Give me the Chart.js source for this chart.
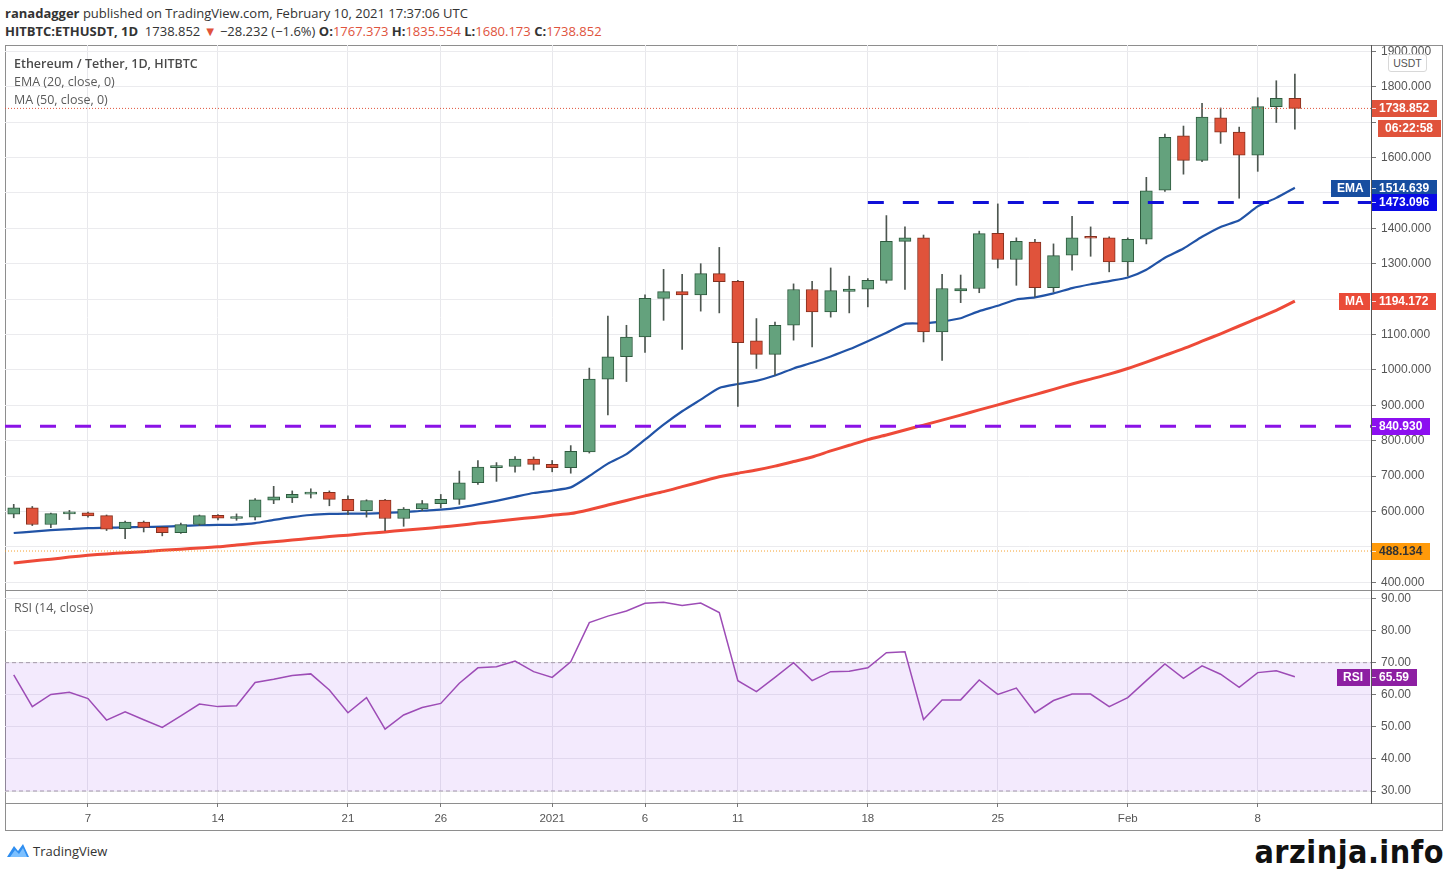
<!DOCTYPE html>
<html>
<head>
<meta charset="utf-8">
<title>ETHUSDT 1D</title>
<script src="https://cdn.jsdelivr.net/npm/chart.js@4.4.1/dist/chart.umd.min.js"></script>
<style>
  body { margin: 0; background: #fff; font-family: "Open Sans", "Noto Sans", sans-serif; color: #333; }
  .page { position: relative; width: 1447px; height: 869px; overflow: hidden; }
  .abs { position: absolute; white-space: nowrap; }
  .hdr { left: 5px; font-size: 13px; line-height: 18px; color: #333; }
  .red { color: #e0533c; }
  .frame { left: 5px; top: 45px; width: 1438px; height: 786px; border: 1px solid #8e8e8e; box-sizing: border-box; }
  .sep { left: 5px; width: 1438px; height: 1px; background: #8e8e8e; }
  .leg { left: 14px; font-size: 12.5px; line-height: 16px; color: #5a5a5a; z-index: 2; }
  .usdt { left: 1388px; top: 54px; width: 37px; height: 16px; border: 1px solid #d8d8d8; border-radius: 3px;
          font: 10.5px "Liberation Sans", sans-serif; color: #555; text-align: center; line-height: 16px; z-index: 2; background: #fff; }
  canvas { position: absolute; left: 0; }
  .tv { left: 33px; top: 842px; font-size: 13px; color: #333; }
  .brand { right: 3px; top: 833px; font: bold 32px "Liberation Sans Narrow", "DejaVu Sans Condensed", sans-serif; color: #111; letter-spacing: 0.5px; }
</style>
</head>
<body>
<div class="page">
  <div class="abs hdr" style="top:4px"><b>ranadagger</b> published on TradingView.com, February 10, 2021 17:37:06 UTC</div>
  <div class="abs hdr" style="top:22px"><b>HITBTC:ETHUSDT, 1D</b>&nbsp; 1738.852 <span class="red">&#9660;</span> &minus;28.232 (&minus;1.6%) <b>O:</b><span class="red">1767.373</span> <b>H:</b><span class="red">1835.554</span> <b>L:</b><span class="red">1680.173</span> <b>C:</b><span class="red">1738.852</span></div>

  <div class="abs frame"></div>
  <div class="abs sep" style="top:590px"></div>
  <div class="abs sep" style="top:803px"></div>

  <canvas id="priceChart" style="top:45px"></canvas>
  <canvas id="rsiChart" style="top:590px"></canvas>

  <div class="abs leg" style="top:56px; font-weight:600; color:#4a4a4a">Ethereum / Tether, 1D, HITBTC</div>
  <div class="abs leg" style="top:74px">EMA (20, close, 0)</div>
  <div class="abs leg" style="top:92px">MA (50, close, 0)</div>
  <div class="abs leg" style="top:600px">RSI (14, close)</div>
  <div class="abs usdt">USDT</div>

  <svg class="abs" style="left:6px; top:842px" width="24" height="16" viewBox="0 0 24 16">
    <path d="M1 15 L8 4 L12 9 L17 2 L23 15 Z" fill="#2f8ef0"/>
    <path d="M4 15 L9 8 L13 12 L17 6 L21 15 Z" fill="#7cc0ff"/>
  </svg>
  <div class="abs tv">TradingView</div>
  <div class="abs brand">arzinja.info</div>
</div>

<script>
// x ticks (day index from Dec 3, 2020) and their labels
const tickDays   = [4, 11, 18, 23, 29, 34, 39, 46, 53, 60, 67];
const tickLabels = ['7', '14', '21', '26', '2021', '6', '11', '18', '25', 'Feb', '8'];
const priceTicks = [400, 500, 600, 700, 800, 900, 1000, 1100, 1200, 1300, 1400, 1500, 1600, 1700, 1800, 1900];
const rsiTicks   = [30, 40, 50, 60, 70, 80, 90];

// daily candles Dec 3 2020 .. Feb 10 2021
const opens  = [592, 610, 563, 593, 596, 588, 551, 570, 555, 540,
                563, 589, 580, 584, 632, 638, 649, 654, 634, 602,
                632, 580, 607, 622, 634, 681, 724, 727, 748, 733,
                724, 768, 974, 1037, 1093, 1202, 1221, 1212, 1272, 1250,
                1082, 1044, 1126, 1227, 1164, 1222, 1228, 1253, 1363, 1373,
                1107, 1223, 1230, 1386, 1312, 1361, 1232, 1324, 1377, 1373,
                1305, 1369, 1508, 1661, 1592, 1712, 1672, 1607, 1744, 1767.373];
const highs  = [620, 614, 595, 603, 598, 590, 573, 573, 557, 567,
                590, 591, 593, 636, 671, 658, 664, 658, 644, 633,
                634, 611, 631, 648, 714, 744, 738, 755, 754, 744,
                786, 1005, 1152, 1126, 1212, 1284, 1270, 1300, 1346, 1253,
                1145, 1135, 1243, 1250, 1288, 1265, 1258, 1436, 1404, 1381,
                1270, 1268, 1392, 1469, 1373, 1369, 1356, 1434, 1404, 1376,
                1373, 1544, 1666, 1689, 1753, 1740, 1686, 1769, 1817, 1835.554];
const lows   = [582, 560, 554, 577, 584, 546, 523, 542, 531, 538,
                560, 576, 575, 576, 622, 625, 638, 616, 591, 584,
                546, 558, 602, 610, 620, 676, 685, 711, 717, 712,
                708, 765, 873, 967, 1049, 1140, 1058, 1166, 1161, 897,
                1004, 985, 1084, 1065, 1149, 1161, 1178, 1245, 1227, 1079,
                1027, 1190, 1218, 1288, 1239, 1206, 1220, 1282, 1321, 1277,
                1265, 1356, 1504, 1553, 1588, 1640, 1485, 1561, 1699, 1680.173];
const closes = [610, 563, 594, 596, 587, 550, 570, 555, 540, 563,
                588, 581, 584, 633, 641, 648, 654, 634, 602, 631,
                580, 607, 622, 634, 681, 725, 728, 748, 733, 724,
                770, 974, 1037, 1093, 1202, 1221, 1212, 1272, 1249, 1077,
                1044, 1126, 1227, 1164, 1224, 1228, 1253, 1363, 1373, 1107,
                1230, 1230, 1385, 1312, 1363, 1232, 1323, 1373, 1372, 1305,
                1369, 1506, 1657, 1592, 1714, 1672, 1607, 1744, 1767, 1738.852];

// indicator values
const ema20 = [539, 543, 547, 550, 553, 554, 555, 556, 557, 559,
               561, 562, 563, 567, 576, 584, 590, 593, 594, 594,
               596, 598, 602, 605, 611, 620, 630, 641, 652, 659,
               668, 700, 735, 762, 803, 845, 883, 916, 949, 960,
               969, 984, 1004, 1020, 1038, 1058, 1081, 1105, 1130, 1131,
               1137, 1146, 1166, 1181, 1199, 1205, 1216, 1231, 1242, 1251,
               1261, 1283, 1317, 1343, 1376, 1404, 1423, 1462, 1486, 1514.639];
const ma50  = [454, 460, 465, 471, 476, 480, 483, 486, 490, 493,
               497, 500, 505, 510, 514, 519, 524, 529, 533, 538,
               542, 547, 551, 556, 561, 567, 572, 578, 583, 589,
               594, 605, 618, 631, 644, 656, 670, 684, 698, 708,
               717, 728, 741, 754, 771, 787, 803, 816, 830, 844,
               858, 872, 887, 901, 916, 930, 945, 960, 974, 988,
               1004, 1022, 1041, 1060, 1081, 1102, 1124, 1146, 1168, 1194.172];
const rsi14 = [66.2, 56.3, 60.1, 60.8, 58.8, 52.1, 54.7, 52.2, 49.8, 53.4,
               57.1, 56.3, 56.6, 63.8, 64.8, 66.0, 66.5, 61.5, 54.4, 59.1,
               49.3, 53.7, 56.0, 57.3, 63.6, 68.4, 68.7, 70.5, 67.2, 65.4,
               70.3, 82.5, 84.5, 86.1, 88.5, 88.8, 87.8, 88.6, 85.6, 64.4,
               61.0, 65.4, 70.0, 64.4, 67.2, 67.3, 68.4, 73.1, 73.4, 52.3,
               58.4, 58.4, 64.6, 60.1, 62.1, 54.4, 58.2, 60.2, 60.2, 56.3,
               59.1, 64.4, 69.6, 65.1, 69.0, 66.4, 62.3, 66.9, 67.5, 65.59];

// drawn levels
const resistanceLevel = 1473.096, resistanceFrom = 46;
const supportLevel = 840.930;
const lowMark = 488.134;
const rsiBands = [70, 30];

const X_MIN = -0.47, X_MAX = 73.1;
const PRICE_MIN = 378, PRICE_MAX = 1918, PRICE_HEIGHT = 545;
const GREEN = '#64a27d', GREEN_EDGE = '#2e5a3e';
const RED = '#e0533b', RED_EDGE = '#84301f';
const WICK = '#4d5650';
const AXIS_FONT = {family: '"Liberation Sans", Arial, sans-serif', size: 12};

const pts = arr => arr.map((v, i) => ({x: i, y: v}));
const span = (y, from, to) => [{x: from, y: y}, {x: to, y: y}];
const isUp = i => closes[i] >= opens[i];

// price / indicator tags on the right axis (kept outside chart options so they are not proxied)
function tagPlugin(items) {
    return {
        id: 'tags',
        afterDraw(chart) {
            const {ctx, chartArea, scales} = chart;
            ctx.save();
            ctx.font = 'bold 12px "Liberation Sans", Arial, sans-serif';
            ctx.textBaseline = 'middle';
            ctx.textAlign = 'left';
            items.forEach(t => {
                const y = Math.round(scales.y.getPixelForValue(t.value)) + (t.offsetY || 0);
                const x = chartArea.right + 1 + (t.dx || 0);
                const w = Math.ceil(ctx.measureText(t.text).width) + 14;
                ctx.fillStyle = t.bg;
                ctx.fillRect(x, y - 8, w, 17);
                ctx.fillStyle = t.fg || '#fff';
                ctx.fillText(t.text, x + 7, y + 1);
                if (!t.dx) {
                    ctx.fillStyle = 'rgba(255,255,255,0.8)';
                    ctx.fillRect(x, y, 4, 1);
                }
                if (t.prefix) {
                    const pw = Math.ceil(ctx.measureText(t.prefix).width) + 12;
                    ctx.fillStyle = t.bg;
                    ctx.fillRect(chartArea.right - pw - 1, y - 8, pw, 17);
                    ctx.fillStyle = '#fff';
                    ctx.fillText(t.prefix, chartArea.right - pw + 5, y + 1);
                }
            });
            ctx.restore();
        }
    };
}

class EthChart {

    constructor() {
        Chart.defaults.font.family = '"Liberation Sans", Arial, sans-serif';
        Chart.defaults.animation = false;
        this.priceCanvas = document.getElementById('priceChart');
        this.rsiCanvas = document.getElementById('rsiChart');
        this.drawPrice();
        this.drawRsi();
    }

    xAxis(showLabels) {
        return {
            type: 'linear', min: X_MIN, max: X_MAX, offset: false,
            afterBuildTicks: s => { s.ticks = tickDays.map(v => ({value: v})); },
            afterFit: s => {
                s.height = showLabels ? 27 : 0;
                s.paddingLeft = 0;
                s.paddingRight = 0;
            },
            grid: {color: '#e8e8ec', offset: false, drawTicks: showLabels, tickLength: 4, tickColor: '#777'},
            border: {display: false},
            ticks: {
                display: showLabels, autoSkip: false, maxRotation: 0, padding: 5,
                color: '#555', font: {family: AXIS_FONT.family, size: 11.5},
                callback: v => tickLabels[tickDays.indexOf(v)]
            }
        };
    }

    yAxis(min, max, ticks, digits, hidden) {
        return {
            type: 'linear', position: 'right', min: min, max: max,
            afterBuildTicks: s => { s.ticks = ticks.map(v => ({value: v})); },
            afterFit: s => {
                s.width = 76;
                s.paddingTop = 0;
                s.paddingBottom = 0;
            },
            grid: {color: '#ebebee', tickLength: 5, tickColor: '#777'},
            border: {display: true, color: '#555'},
            ticks: {
                autoSkip: false, padding: 5, color: '#555', font: AXIS_FONT,
                callback: v => hidden.includes(v) ? '' : v.toFixed(digits)
            }
        };
    }

    // tick labels that sit under a tag are not shown, like on the original
    coveredTicks(ticks, tags, unitsPerPx) {
        return ticks.filter(v => tags.some(t => Math.abs(v - (t.value - (t.offsetY || 0) * unitsPerPx)) < 14 * unitsPerPx));
    }

    drawPrice() {
        const last = closes.length - 1;
        const tags = [
            {value: closes[last], text: closes[last].toFixed(3), bg: '#e0533b'},
            {value: closes[last], text: '06:22:58', bg: '#e0533b', offsetY: 20, dx: 6},
            {value: ema20[last], text: ema20[last].toFixed(3), bg: '#174ea0', prefix: 'EMA'},
            {value: resistanceLevel, text: resistanceLevel.toFixed(3), bg: '#0a0ae6'},
            {value: ma50[last], text: ma50[last].toFixed(3), bg: '#ea4b38', prefix: 'MA'},
            {value: supportLevel, text: supportLevel.toFixed(3), bg: '#8c0ff0'},
            {value: lowMark, text: lowMark.toFixed(3), bg: '#ff9a0a', fg: '#333'}
        ];
        const hidden = this.coveredTicks(priceTicks, tags, (PRICE_MAX - PRICE_MIN) / PRICE_HEIGHT);
        this.priceChart = new Chart(this.priceCanvas, {
            type: 'bar',
            data: {
                datasets: [
                    {type: 'line', data: span(resistanceLevel, resistanceFrom, X_MAX), borderColor: '#1010d8', borderWidth: 3,
                     borderDash: [16, 19], pointRadius: 0, order: 0},
                    {type: 'line', data: span(supportLevel, X_MIN, X_MAX), borderColor: '#8a12e6', borderWidth: 3,
                     borderDash: [16, 19], pointRadius: 0, order: 0},
                    {type: 'line', data: span(closes[last], X_MIN, X_MAX), borderColor: '#e0533b', borderWidth: 1,
                     borderDash: [1, 2], pointRadius: 0, order: 0},
                    {type: 'line', data: span(lowMark, X_MIN, X_MAX), borderColor: '#f5a12e', borderWidth: 1,
                     borderDash: [1, 2], pointRadius: 0, order: 0},
                    {
                        data: opens.map((o, i) => ({x: i, y: [o, closes[i]]})),
                        backgroundColor: c => isUp(c.dataIndex) ? GREEN : RED,
                        borderColor: c => isUp(c.dataIndex) ? GREEN_EDGE : RED_EDGE,
                        borderWidth: 1, borderSkipped: false, barThickness: 12, minBarLength: 2,
                        grouped: false, order: 1
                    },
                    {
                        data: lows.map((l, i) => ({x: i, y: [l, highs[i]]})),
                        backgroundColor: WICK, borderWidth: 0, barThickness: 1,
                        grouped: false, order: 2
                    },
                    {type: 'line', data: pts(ema20), borderColor: '#2153a6', borderWidth: 2.2, pointRadius: 0,
                     tension: 0.2, order: 3},
                    {type: 'line', data: pts(ma50), borderColor: '#ee4a38', borderWidth: 3, pointRadius: 0,
                     tension: 0.2, order: 3}
                ]
            },
            options: {
                responsive: false,
                layout: {padding: {left: 5, top: 0, right: 0, bottom: 0}},
                scales: {x: this.xAxis(false), y: this.yAxis(PRICE_MIN, PRICE_MAX, priceTicks, 3, hidden)},
                plugins: {legend: {display: false}, tooltip: {enabled: false}}
            },
            plugins: [tagPlugin(tags)]
        });
    }

    drawRsi() {
        const last = rsi14.length - 1;
        const tags = [{value: rsi14[last], text: rsi14[last].toFixed(2), bg: '#8d1fa2', prefix: 'RSI'}];
        this.rsiChart = new Chart(this.rsiCanvas, {
            type: 'line',
            data: {
                datasets: [
                    {data: pts(rsi14), borderColor: '#9d4cb6', borderWidth: 1.5, pointRadius: 0, order: 0},
                    {data: span(rsiBands[0], X_MIN, X_MAX), borderColor: '#a39aa8', borderWidth: 1, borderDash: [4, 3],
                     pointRadius: 0, fill: '+1', backgroundColor: 'rgba(160, 80, 236, 0.12)', order: 1},
                    {data: span(rsiBands[1], X_MIN, X_MAX), borderColor: '#a39aa8', borderWidth: 1, borderDash: [4, 3],
                     pointRadius: 0, fill: false, order: 1}
                ]
            },
            options: {
                responsive: false,
                layout: {padding: {left: 5, top: 0, right: 0, bottom: 0}},
                scales: {x: this.xAxis(true), y: this.yAxis(26.26, 92.65, rsiTicks, 2, [])},
                plugins: {legend: {display: false}, tooltip: {enabled: false}}
            },
            plugins: [tagPlugin(tags)]
        });
    }
}

document.getElementById('priceChart').width = 1447;
document.getElementById('priceChart').height = PRICE_HEIGHT;
document.getElementById('rsiChart').width = 1447;
document.getElementById('rsiChart').height = 240;
new EthChart();
</script>
</body>
</html>
